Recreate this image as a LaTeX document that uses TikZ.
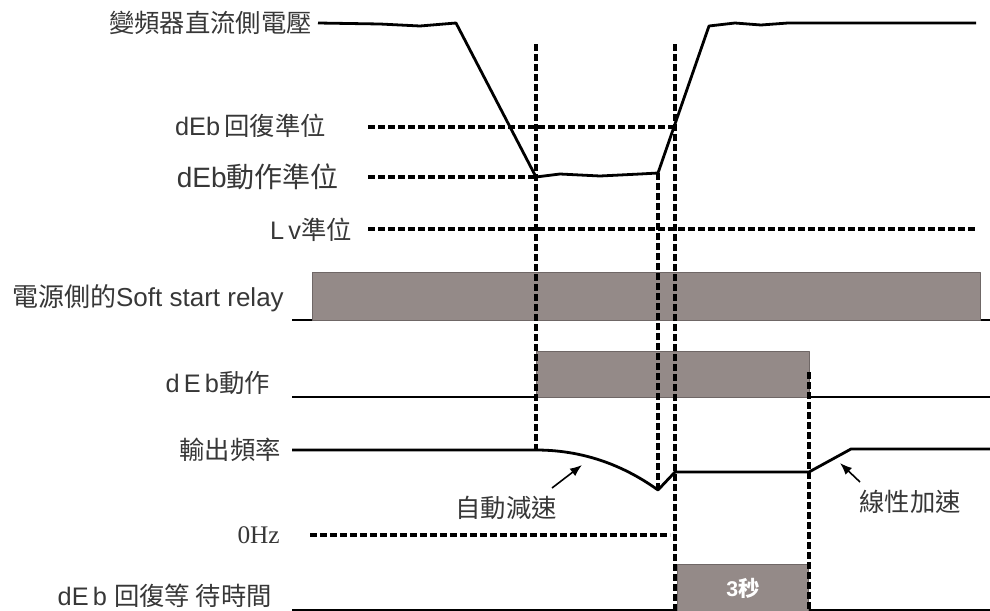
\documentclass[tikz,border=0pt]{standalone}
\usepackage{fontspec}
\setmainfont{Liberation Sans}
\newfontfamily\cjk{Noto Sans CJK TC}
\newfontfamily\serif{Liberation Serif}
\usetikzlibrary{arrows.meta}
\definecolor{barfill}{RGB}{148,138,136}
\definecolor{txt}{RGB}{55,55,55}

\begin{document}
\begin{tikzpicture}[x=0.75pt, y=-0.75pt, >={Latex[length=9pt,width=7pt]}, line join=round,
  sig/.style={line width=2.1pt},
  dashln/.style={line width=2.5pt, dash pattern=on 5pt off 2.5pt},
  base/.style={line width=1.1pt},
  bar/.style={fill=barfill, draw=barfill!75!black, line width=0.6pt},
  lbl/.style={anchor=east, text=txt, inner sep=0pt, font=\fontsize{19}{21}\selectfont}]
  \useasboundingbox (0,0) rectangle (990,611);

  % Coordinates
  \coordinate (A) at (456,23);
  \coordinate (B) at (536,177);
  \coordinate (C) at (658,173);
  \coordinate (D) at (709,26);
  \coordinate (F1) at (536,450);
  \coordinate (F2) at (658,490);
  \coordinate (F3) at (675,472);
  \coordinate (F4) at (809,472);
  \coordinate (F5) at (851,449);

  % Soft start relay and dEb
  \draw[base] (292,320) -- (990,320);
  \draw[bar] (312,272) rectangle (980,320);
  \draw[base, line width=1.5pt] (292,397) -- (990,397);
  \draw[bar] (536,351) rectangle (809,397);

  % Wait time
  \draw[base] (292,610) -- (990,610);
  \draw[bar] (677,564) rectangle (808,611);
  \node[text=white, font=\fontsize{16}{18}\selectfont\bfseries] (sec) at (743,588) {3{\cjk 秒}};

  % Dashed levels
  \draw[dashln] (536,44) -- (F1);
  \draw[dashln] (675,44) -- (675,611);
  \draw[dashln] (C) -- (F2);
  \draw[dashln] (809,372) -- (809,611);
  \draw[dashln] (368,127) -- (675,127);
  \draw[dashln] (368,177) -- (B);
  \draw[dashln] (368,229) -- (976,229);
  \draw[dashln] (310,535) -- (670,535);

  % DC bus voltage
  \draw[sig] (318,23) -- (380,24) -- (420,26) -- (A) -- (B) -- (560,174) -- (600,176)
    -- (640,174) -- (C) -- (D) -- (735,23) -- (761,25) -- (788,23) -- (976,23);

  % Output frequency
  \draw[sig] (292,450) -- (F1) .. controls (590,450) and (630,470) .. (F2) -- (F3) -- (F4)
    -- (F5) -- (990,449);

  % Labels
  \node[lbl] (vdc) at (312,23) {\cjk 變頻器直流側電壓};
  \node[lbl] (rec) at (326,126) {dEb\,{\cjk 回復準位}};
  \node[lbl, font=\fontsize{21}{23}\selectfont] (act) at (339,177) {dEb{\cjk 動作準位}};
  \node[lbl] (lv) at (352,230) {L\,v{\cjk 準位}};
  \node[lbl, font=\fontsize{19.5}{21}\selectfont] (soft) at (284,298) {{\cjk 電源側的}Soft start relay};
  \node[lbl] (deb) at (270,383) {d\,E\,b{\cjk 動作}};
  \node[lbl] (fout) at (281,450) {\cjk 輸出頻率};
  \node[lbl, font=\fontsize{19}{21}\serif] (zero) at (280,535) {0Hz};
  \node[lbl] (wait) at (272,596) {dE\,b {\cjk 回復等 待時間}};
  \node[lbl, anchor=center] (dec) at (506,508) {\cjk 自動減速};
  \node[lbl, anchor=center] (acc) at (910,502) {\cjk 線性加速};

  % Arrows
  \coordinate (P1) at (552,488);
  \coordinate (P2) at (582,465);
  \coordinate (Q1) at (860,482);
  \coordinate (Q2) at (840,463);
  \draw[->, line width=1.2pt] (P1) -- (P2);
  \draw[->, line width=1.2pt] (Q1) -- (Q2);
\end{tikzpicture}
\end{document}
